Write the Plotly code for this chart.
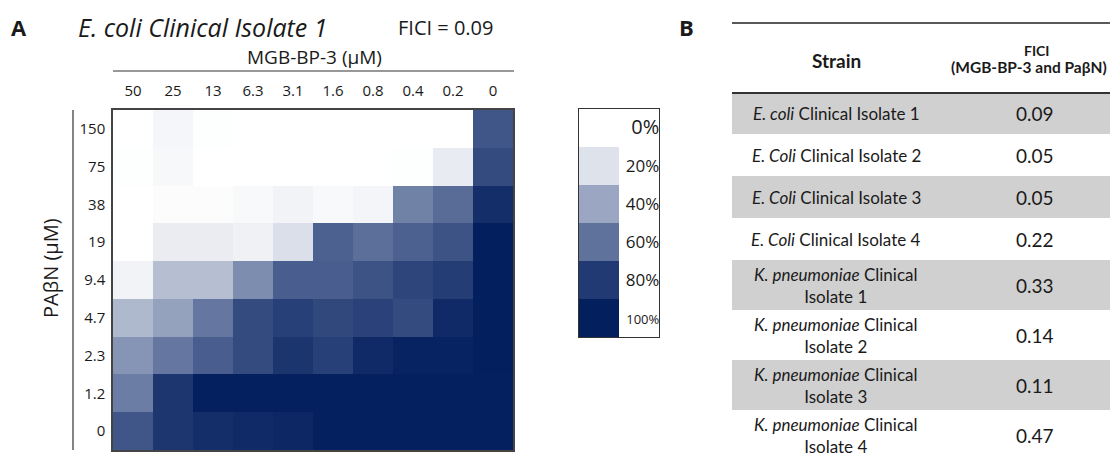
import plotly.graph_objects as go

# browser page offsets the figure by the default 8px body margin
OFF = 8
W, H = 1118 - OFF, 456 - OFF

# ---------------- data ----------------
mgb_conc = ["50", "25", "13", "6.3", "3.1", "1.6", "0.8", "0.4", "0.2", "0"]
pabn_conc = ["150", "75", "38", "19", "9.4", "4.7", "2.3", "1.2", "0"]
growth_pct = [
    [0, 6, 1, 0, 0, 0, 0, 0, 0, 70],
    [1, 5, 0, 0, 0, 0, 0, 1, 14, 74],
    [0, 2, 2, 4, 8, 4, 7, 54, 62, 89],
    [0, 13, 13, 10, 21, 66, 61, 66, 71, 100],
    [8, 32, 32, 50, 67, 67, 71, 76, 79, 100],
    [34, 42, 58, 74, 78, 75, 77, 74, 92, 100],
    [47, 58, 67, 74, 84, 78, 92, 97, 97, 100],
    [56, 83, 99, 99, 99, 99, 99, 99, 99, 99],
    [70, 83, 89, 92, 94, 99, 99, 99, 99, 99],
]
legend_levels = [0, 20, 40, 60, 80, 100]
legend_labels = ["0%", "20%", "40%", "60%", "80%", "100%"]
legend_label_sizes = [20, 17, 17, 17, 17, 13]

strains = [
    "<i>E. coli</i> Clinical Isolate 1",
    "<i>E. Coli</i> Clinical Isolate 2",
    "<i>E. Coli</i> Clinical Isolate 3",
    "<i>E. Coli</i> Clinical Isolate 4",
    "<i>K. pneumoniae</i> Clinical<br>Isolate 1",
    "<i>K. pneumoniae</i> Clinical<br>Isolate 2",
    "<i>K. pneumoniae</i> Clinical<br>Isolate 3",
    "<i>K. pneumoniae</i> Clinical<br>Isolate 4",
]
fici_values = ["0.09", "0.05", "0.05", "0.22", "0.33", "0.14", "0.11", "0.47"]

colorscale = [
    [0.0, "#ffffff"],
    [0.2, "#dee2eb"],
    [0.4, "#9ba7c2"],
    [0.6, "#5f729c"],
    [0.8, "#213a73"],
    [1.0, "#031f5e"],
]

FONT_A = "Open Sans"
FONT_B = "Lato"
TXT = "#1a1a1a"


def X(px):
    return (px - OFF) / W


def Y(py):
    return 1 - (py - OFF) / H


fig = go.Figure()

# main checkerboard heatmap
fig.add_trace(go.Heatmap(
    z=growth_pct, x=mgb_conc, y=pabn_conc,
    colorscale=colorscale, zmin=0, zmax=100, showscale=False,
    xaxis="x", yaxis="y",
))

# discrete legend as small heatmap
fig.add_trace(go.Heatmap(
    z=[[v] for v in legend_levels], x=[0], y=legend_labels,
    colorscale=colorscale, zmin=0, zmax=100, showscale=False,
    xaxis="x2", yaxis="y2",
))

fig.update_layout(
    width=W, height=H,
    margin=dict(l=0, r=0, t=0, b=0),
    paper_bgcolor="white", plot_bgcolor="white",
    showlegend=False,
    xaxis=dict(
        domain=[X(113), X(513)], type="category", side="top",
        tickfont=dict(family=FONT_A, size=15, color=TXT),
        ticks="outside", ticklen=6, tickcolor="rgba(0,0,0,0)",
        showline=True, mirror=True, linecolor="#444", linewidth=1.5,
        showgrid=False, zeroline=False, fixedrange=True, automargin=False,
    ),
    yaxis=dict(
        domain=[Y(450), Y(110)], type="category", autorange="reversed",
        tickfont=dict(family=FONT_A, size=15, color=TXT),
        ticks="outside", ticklen=3, tickcolor="rgba(0,0,0,0)",
        showline=True, mirror=True, linecolor="#444", linewidth=1.5,
        showgrid=False, zeroline=False, fixedrange=True, automargin=False,
    ),
    xaxis2=dict(
        domain=[X(579), X(659)], range=[-0.5, 1.5], anchor="y2",
        showticklabels=False, ticks="",
        showline=True, mirror=True, linecolor="#333", linewidth=1.2,
        showgrid=False, zeroline=False, fixedrange=True,
    ),
    yaxis2=dict(
        domain=[Y(337), Y(109)], type="category", autorange="reversed",
        anchor="x2", side="right", ticklabelposition="inside",
        tickmode="array", tickvals=legend_labels,
        ticktext=[f"<span style='font-size:{s}px'>{t}</span>"
                  for t, s in zip(legend_labels, legend_label_sizes)],
        tickfont=dict(family=FONT_A, size=17, color=TXT),
        ticks="", showline=True, mirror=True, linecolor="#333", linewidth=1.2,
        showgrid=False, zeroline=False, fixedrange=True,
    ),
)

shapes = []
annotations = []


def txt(x, y, text, size, family=FONT_A, xanchor="center", angle=0):
    annotations.append(dict(x=X(x), y=Y(y), text=text, showarrow=False,
                            xref="paper", yref="paper", xanchor=xanchor,
                            yanchor="middle", textangle=angle,
                            font=dict(family=family, size=size, color=TXT)))


def hline(x0, x1, y, color, width):
    shapes.append(dict(type="line", xref="paper", yref="paper",
                       x0=X(x0), x1=X(x1), y0=Y(y), y1=Y(y),
                       line=dict(color=color, width=width)))


# ---- panel A decorations ----
txt(19, 27, "<b>A</b>", 22)
txt(76, 27, "<i>E. coli Clinical Isolate 1</i>", 25, xanchor="left")
txt(396, 27, "FICI = 0.09", 20, xanchor="left")
txt(314, 57, "MGB-BP-3 (μM)", 19)
txt(50, 268, "PAβN (μM)", 20, angle=-90)
hline(113, 514, 71, "#333", 1.2)
shapes.append(dict(type="line", xref="paper", yref="paper",
                   x0=X(73), x1=X(73), y0=Y(110), y1=Y(450),
                   line=dict(color="#333", width=1.2)))

# ---- panel B table ----
txt(686, 27, "<b>B</b>", 22)
TAB_L, TAB_R = 732, 1118
COL1, COL2 = 836, 1035
hline(TAB_L, TAB_R, 23, "#222", 1.5)
txt(COL1, 60, "<b>Strain</b>", 19, family=FONT_B)
txt(1037, 50, "<b>FICI</b>", 14, family=FONT_B)
txt(1029, 67, "<b>(MGB-BP-3 and PaβN)</b>", 15.5, family=FONT_B)

top = 93
for i, (s, f) in enumerate(zip(strains, fici_values)):
    h = 50 if "<br>" in s else 42
    if i == 0:
        h = 41
    bot = top + h
    if i % 2 == 0:
        shapes.append(dict(type="rect", xref="paper", yref="paper",
                           x0=X(TAB_L), x1=X(TAB_R), y0=Y(bot), y1=Y(top),
                           fillcolor="#d0d0d0", line=dict(width=0), layer="below"))
    mid = (top + bot) / 2
    txt(COL1, mid, s, 17, family=FONT_B)
    txt(COL2, mid, f, 19, family=FONT_B)
    top = bot

hline(TAB_L, TAB_R, 93, "#333", 2)

fig.update_layout(shapes=shapes, annotations=annotations)
fig.write_html("out.html")
